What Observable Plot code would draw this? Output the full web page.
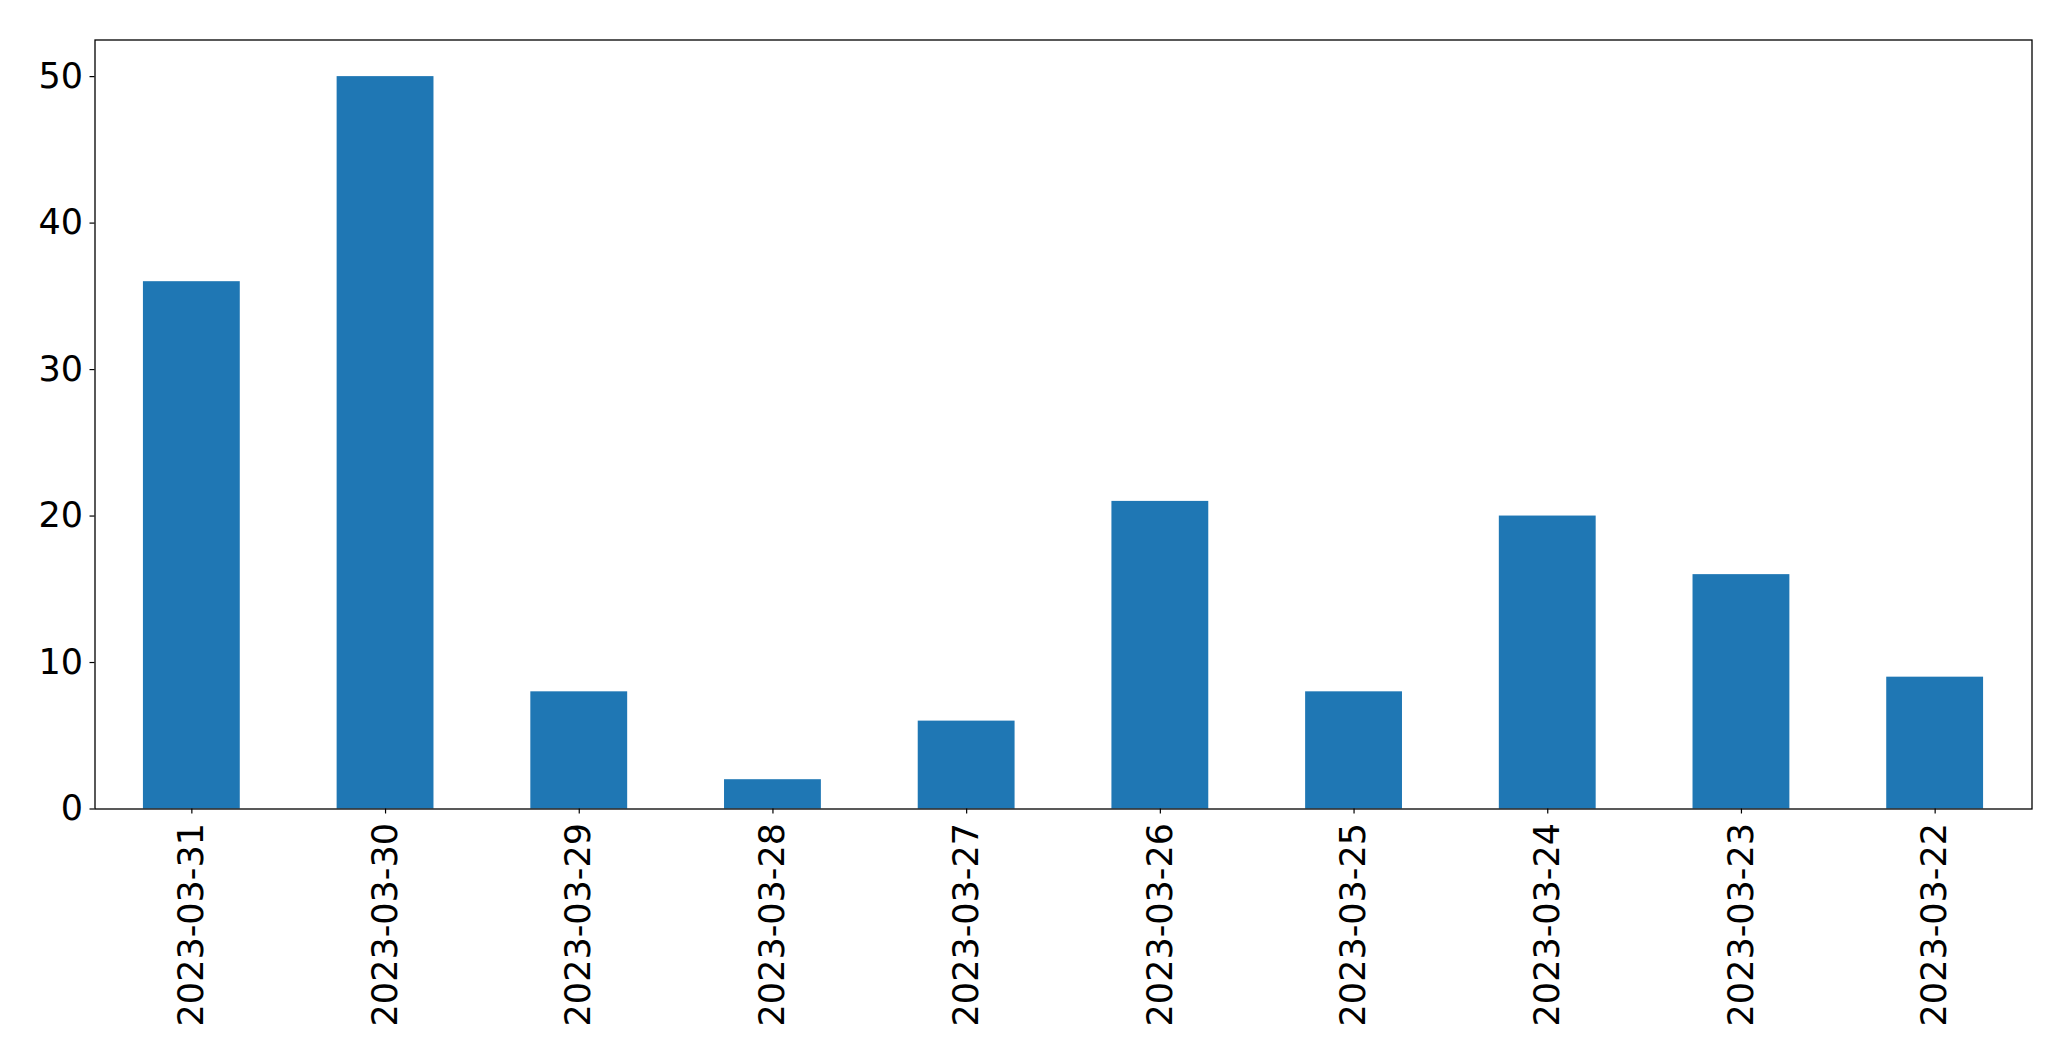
<!DOCTYPE html>
<html>
<head>
<meta charset="utf-8">
<script src="https://cdn.jsdelivr.net/npm/d3@7"></script>
<script src="https://cdn.jsdelivr.net/npm/@observablehq/plot@0.6"></script>
<style>
  html, body { margin: 0; padding: 0; background: #fff; }
  #chart svg { display: block; }
</style>
</head>
<body>
<div id="chart"></div>
<script>
const dates = ["2023-03-31", "2023-03-30", "2023-03-29", "2023-03-28", "2023-03-27",
               "2023-03-26", "2023-03-25", "2023-03-24", "2023-03-23", "2023-03-22"];
const counts = [36, 50, 8, 2, 6, 21, 8, 20, 16, 9];
const yTicks = [0, 10, 20, 30, 40, 50];

const data = dates.map((d, i) => ({date: d, count: counts[i]}));

const chart = Plot.plot({
  width: 2071,
  height: 1061,
  marginLeft: 94.5,
  marginRight: 39.5,
  marginTop: 39.5,
  marginBottom: 252.5,
  style: {
    fontFamily: "DejaVu Sans",
    fontSize: "35px",
    color: "#000",
    background: "#fff"
  },
  x: {domain: dates, paddingInner: 0.5, paddingOuter: 0.25, round: false, label: null},
  y: {domain: [0, 52.5], label: null},
  marks: [
    Plot.barY(data, {x: "date", y: "count", fill: "#1f77b4"}),
    Plot.frame({stroke: "#000", strokeWidth: 1.3}),
    Plot.axisY({ticks: yTicks, tickSize: 5, tickPadding: 7, fontSize: 35, label: null, stroke: "#000", strokeWidth: 1.2}),
    Plot.axisX({tickRotate: -90, tickSize: 5, tickPadding: 9, fontSize: 35, label: null, stroke: "#000", strokeWidth: 1.2})
  ]
});
document.getElementById("chart").appendChild(chart);
</script>
</body>
</html>
